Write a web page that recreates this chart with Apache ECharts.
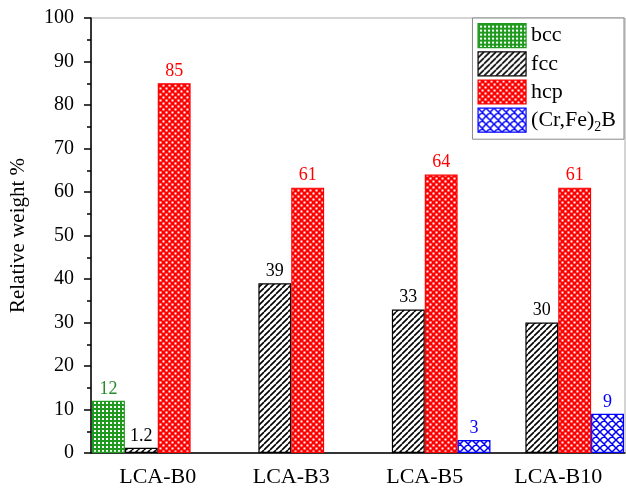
<!DOCTYPE html>
<html>
<head>
<meta charset="utf-8">
<script src="https://cdn.jsdelivr.net/npm/echarts@6/dist/echarts.min.js"></script>
<style>
  html, body { margin: 0; padding: 0; background: #fff; }
  #chart { width: 626px; height: 491px; }
</style>
</head>
<body>
<div id="chart"></div>
<script>
// Phase fractions per alloy
const categories = ['LCA-B0', 'LCA-B3', 'LCA-B5', 'LCA-B10'];
const bccValues = [12, null, null, null];
const fccValues = [1.2, 39, 33, 30];
const hcpValues = [85, 61, 64, 61];
const borideValues = [null, null, 3, 9];
const yTicks = [0, 10, 20, 30, 40, 50, 60, 70, 80, 90, 100];

const FONT = '"Liberation Serif", "Times New Roman", serif';

// Fill patterns drawn on small tiles
function tile(size, draw) {
  const c = document.createElement('canvas');
  c.width = size; c.height = size;
  const g = c.getContext('2d');
  g.fillStyle = '#fff';
  g.fillRect(0, 0, size, size);
  draw(g, size);
  return c;
}
const gridTile = tile(4, (g, s) => {
  g.fillStyle = '#1f9a1f';
  g.fillRect(0, 0, s, 2);
  g.fillRect(0, 0, 2, s);
});
const hatchTile = tile(6, (g, s) => {
  g.strokeStyle = '#000';
  g.lineWidth = 1.6;
  g.beginPath();
  for (let k = -1; k <= 1; k++) {
    g.moveTo(k * s, s); g.lineTo(k * s + s, 0);
  }
  g.stroke();
});
const dotTile = tile(6, (g, s) => {
  g.fillStyle = '#ff0000';
  g.fillRect(0, 0, s, s);
  g.fillStyle = '#fff';
  g.fillRect(0.5, 0.5, 2, 2);
  g.fillRect(3.5, 3.5, 2, 2);
});
const crossTile = tile(8, (g, s) => {
  g.strokeStyle = '#0000ff';
  g.lineWidth = 1.5;
  g.beginPath();
  for (let k = -1; k <= 1; k++) {
    g.moveTo(k * s, s); g.lineTo(k * s + s, 0);
    g.moveTo(k * s, 0); g.lineTo(k * s + s, s);
  }
  g.stroke();
});

function barSeries(name, data, pattern, stroke, labelColor) {
  return {
    name: name,
    type: 'bar',
    data: data,
    barGap: '0%',
    barCategoryGap: '1.5%',
    itemStyle: {
      color: { image: pattern, repeat: 'repeat' },
      borderColor: stroke,
      borderWidth: 1.2
    },
    label: {
      show: true,
      position: 'top',
      distance: 3,
      color: labelColor,
      fontFamily: FONT,
      fontSize: 18
    }
  };
}

const chart = echarts.init(document.getElementById('chart'), null, { renderer: 'canvas' });
chart.setOption({
  animation: false,
  backgroundColor: '#fff',
  grid: {
    left: 89, right: 1, top: 18, bottom: 38,
    show: true, borderColor: '#aaa', borderWidth: 1
  },
  legend: {
    orient: 'vertical',
    right: 2, top: 18,
    icon: 'rect',
    itemWidth: 48, itemHeight: 24, itemGap: 3,
    padding: [5, 8, 5, 5],
    borderColor: '#888', borderWidth: 1,
    backgroundColor: '#fff',
    data: ['bcc', 'fcc', 'hcp', '(Cr,Fe)2B'],
    formatter: function (name) {
      if (name === '(Cr,Fe)2B') return '{t|(Cr,Fe)}{s|2}{t|B}';
      return '{t|' + name + '}';
    },
    textStyle: {
      fontFamily: FONT, fontSize: 22, color: '#000',
      rich: {
        t: { fontFamily: FONT, fontSize: 22, color: '#000' },
        s: { fontFamily: FONT, fontSize: 14, color: '#000', verticalAlign: 'bottom', padding: [14, 0, 0, 0] }
      }
    },
    itemStyle: { borderWidth: 1.2 }
  },
  xAxis: [
    {
      type: 'category',
      data: categories,
      position: 'bottom',
      axisLine: { lineStyle: { color: '#000', width: 1.5 } },
      axisTick: { alignWithLabel: true, length: 8, lineStyle: { color: '#000', width: 1.5 } },
      axisLabel: { color: '#000', fontFamily: FONT, fontSize: 22, margin: 13 }
    },
    {
      type: 'category',
      data: categories,
      position: 'bottom',
      axisLine: { show: false },
      axisTick: { interval: 0, length: 4, lineStyle: { color: '#000', width: 1.5 } },
      axisLabel: { show: false }
    }
  ],
  yAxis: {
    type: 'value',
    min: 0, max: 100, interval: 10,
    name: 'Relative weight %',
    nameLocation: 'middle',
    nameGap: 62,
    nameTextStyle: { fontFamily: FONT, fontSize: 21, color: '#000' },
    axisLine: { show: true, lineStyle: { color: '#000', width: 1.5 } },
    axisTick: { show: true, length: 7, lineStyle: { color: '#000', width: 1.5 } },
    minorTick: { show: true, splitNumber: 2, length: 4, lineStyle: { color: '#000', width: 1.5 } },
    splitLine: { show: false },
    axisLabel: {
      color: '#000', fontFamily: FONT, fontSize: 20, margin: 17,
      formatter: function (v) { return yTicks.indexOf(v) >= 0 ? String(v) : ''; }
    }
  },
  series: [
    barSeries('bcc', bccValues, gridTile, '#1f9a1f', '#2a8a2a'),
    barSeries('fcc', fccValues, hatchTile, '#000', '#000'),
    barSeries('hcp', hcpValues, dotTile, '#ff0000', '#ff0000'),
    barSeries('(Cr,Fe)2B', borideValues, crossTile, '#0000ff', '#0000ff')
  ]
});
</script>
</body>
</html>
